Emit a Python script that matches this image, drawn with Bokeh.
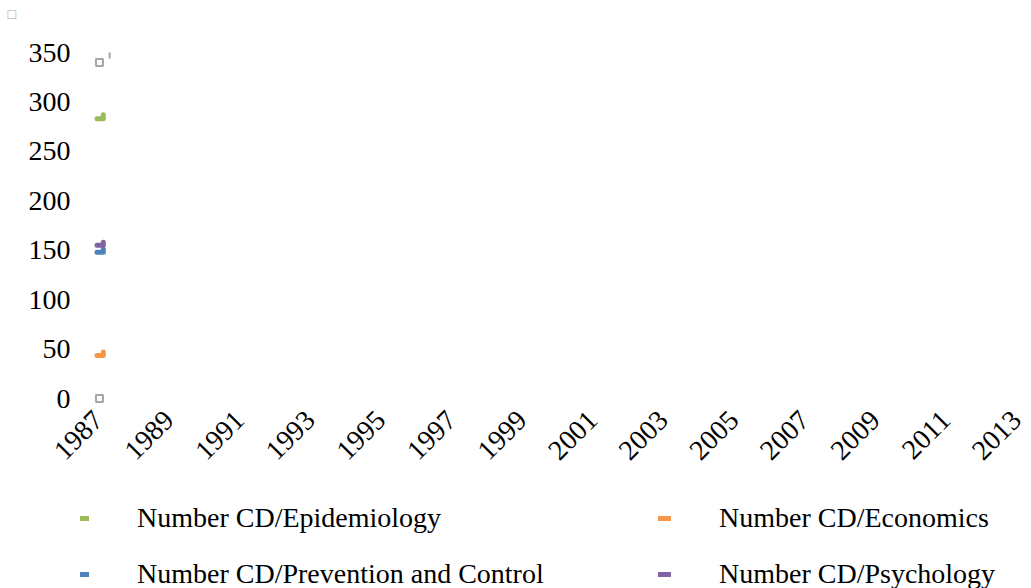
import math
from bokeh.plotting import figure
from bokeh.layouts import column
from bokeh.models import Range1d, FixedTicker, Legend, LegendItem
from bokeh.embed import file_html
from bokeh.resources import INLINE

# ---- data ----
x_tick_years = list(range(1987, 2014, 2))
y_ticks = [0, 50, 100, 150, 200, 250, 300, 350]

series_names = ["Number CD/Epidemiology", "Number CD/Economics",
                "Number CD/Prevention and Control", "Number CD/Psychology"]
series_colors = ["#9BBB59", "#F79646", "#4F81BD", "#8064A2"]
series_x = [1986.96, 1987.14]
epidemiology = [283, 287]
economics = [43.5, 47]
prevention = [148, 151]
psychology = [155, 158]
series_values = [epidemiology, economics, prevention, psychology]

grey_x = [1987.03, 1987.03]
grey_values = [340, 0]
grey_tick_x = [1987.32]
grey_tick_values = [347]

FONT = "Liberation Serif"

p = figure(width=1031, height=490, output_backend="svg",
           toolbar_location=None, title="□",
           x_range=Range1d(1986.4935, 2013.2), y_range=Range1d(-7.08, 382.4),
           min_border_left=80, min_border_right=8, min_border_top=20,
           min_border_bottom=85)
p.outline_line_color = None
p.grid.visible = False
p.title.text_font_size = "14px"
p.title.text_color = "#A5A5A5"
p.title.text_font_style = "normal"
p.title.align = "left"
p.title.offset = -73
p.title.standoff = -2

for ax in (p.xaxis[0], p.yaxis[0]):
    ax.axis_line_color = None
    ax.major_tick_line_color = None
    ax.minor_tick_line_color = None
    ax.major_tick_out = 0
    ax.major_tick_in = 0
    ax.major_label_text_font = FONT
    ax.major_label_text_font_size = "28px"
    ax.major_label_text_color = "#000000"

p.xaxis[0].ticker = FixedTicker(ticks=x_tick_years)
p.xaxis[0].major_label_orientation = math.pi / 4
p.xaxis[0].major_label_standoff = 10
p.yaxis[0].ticker = FixedTicker(ticks=y_ticks)
p.yaxis[0].major_label_standoff = 10

for col, vals in zip(series_colors, series_values):
    p.step(series_x, vals, mode="after", line_color=col, line_width=5,
           line_cap="round", line_join="round")

p.scatter(grey_x, grey_values, marker="square", size=7, fill_color=None,
          line_color="#A5A5A5", line_width=2)
p.scatter(grey_tick_x, grey_tick_values, marker="dash", angle=math.pi / 2,
          size=6, line_color="#A5A5A5", line_width=2)

# ---- legend strip (separate figure below) ----
lg = figure(width=1031, height=98, output_backend="svg", toolbar_location=None,
            x_range=Range1d(10, 11), y_range=Range1d(10, 11),
            x_axis_location=None, y_axis_location=None,
            min_border_left=0, min_border_right=0, min_border_top=0,
            min_border_bottom=0)
lg.outline_line_color = None
lg.grid.visible = False

items = []
for name, col in zip(series_names, series_colors):
    r = lg.step([0, 1], [0, 0], mode="after", line_color=col, line_width=5,
                line_cap="round", line_join="round")
    items.append(LegendItem(label=name, renderers=[r]))

legend = Legend(items=items, orientation="horizontal", ncols=2,
                location=(-4, -2), glyph_width=13, glyph_height=28,
                label_standoff=48, label_width=497, spacing=24,
                label_text_font=FONT, label_text_font_size="28px",
                label_text_color="#000000", padding=0, margin=0,
                background_fill_alpha=0, border_line_color=None)
lg.add_layout(legend, "center")

layout = column(p, lg, spacing=0)
open("out.html", "w").write(file_html(layout, INLINE))
